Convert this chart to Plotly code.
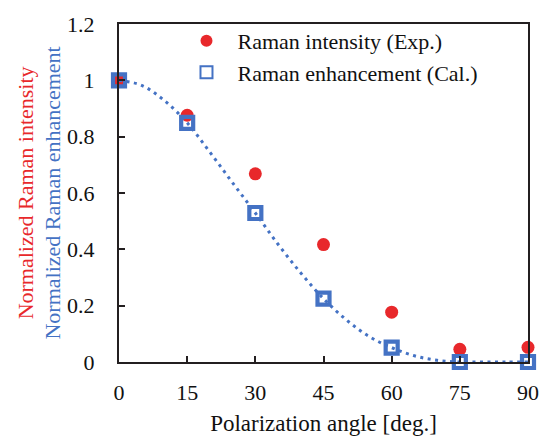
import plotly.graph_objects as go

# Polarization angle (degrees)
angles = [0, 15, 30, 45, 60, 75, 90]
# Measured normalized Raman intensity
raman_exp = [1.0, 0.876, 0.668, 0.417, 0.177, 0.045, 0.052]
# Calculated normalized Raman enhancement
raman_cal = [1.0, 0.849, 0.529, 0.225, 0.051, 0.0, 0.0]

# Dense calculated curve (dotted)
curve_angles = [0, 5, 10, 15, 20, 25, 30, 35, 40, 45, 50, 55, 60, 65, 70, 75, 80, 85, 90]
curve_values = [1.0, 0.982, 0.928, 0.849, 0.745, 0.636, 0.529, 0.418, 0.316, 0.225,
                0.150, 0.091, 0.051, 0.022, 0.006, 0.0, 0.0, 0.0, 0.0]

x_ticks = [0, 15, 30, 45, 60, 75, 90]
y_ticks = [0, 0.2, 0.4, 0.6, 0.8, 1, 1.2]
y_tick_text = ["0", "0.2", "0.4", "0.6", "0.8", "1", "1.2"]

RED = "#E8282B"
BLUE = "#4472C4"
AXIS = "#231F20"
TEXT = "#111111"
FONT = "Liberation Serif"

fig = go.Figure()

fig.add_trace(go.Scatter(
    x=angles, y=raman_exp, mode="markers", name="\u00a0\u00a0Raman intensity (Exp.)",
    marker=dict(symbol="circle", size=13, color=RED, line=dict(width=0)),
    cliponaxis=False,
))
fig.add_trace(go.Scatter(
    x=curve_angles, y=curve_values, mode="lines", showlegend=False,
    line=dict(color=BLUE, width=3, dash="3px,4.5px", shape="spline"),
    hoverinfo="skip", cliponaxis=False,
))
fig.add_trace(go.Scatter(
    x=angles, y=raman_cal, mode="markers", name="\u00a0\u00a0Raman enhancement (Cal.)",
    marker=dict(symbol="square-open", size=12, color=BLUE, line=dict(width=4.2, color=BLUE)),
    cliponaxis=False,
))

axis_common = dict(
    showgrid=False, zeroline=False, showline=True, linecolor=AXIS, linewidth=2,
    mirror=True, ticks="inside", ticklen=6, tickwidth=1.5, tickcolor=AXIS,
    tickfont=dict(family=FONT, size=22, color=TEXT),
)

fig.update_xaxes(
    range=[0, 90], tickvals=x_ticks, ticktext=[str(v) for v in x_ticks],
    title=dict(text="Polarization angle [deg.]", font=dict(family=FONT, size=23, color=TEXT), standoff=10),
    ticklabelstandoff=10,
    **axis_common,
)
fig.update_yaxes(
    range=[0, 1.2], tickvals=y_ticks, ticktext=y_tick_text,
    ticklabelstandoff=18,
    **axis_common,
)

fig.add_annotation(
    text="Normalized Raman intensity", textangle=-90, showarrow=False,
    xref="paper", yref="paper", x=-0.229, y=0.5, xanchor="center", yanchor="middle",
    font=dict(family=FONT, size=22, color=RED),
)
fig.add_annotation(
    text="Normalized Raman enhancement", textangle=-90, showarrow=False,
    xref="paper", yref="paper", x=-0.165, y=0.5, xanchor="center", yanchor="middle",
    font=dict(family=FONT, size=22, color=BLUE),
)

fig.update_layout(
    width=551, height=446,
    margin=dict(l=119, r=16, t=17, b=84),
    paper_bgcolor="white", plot_bgcolor="white",
    showlegend=True,
    legend=dict(
        x=0.165, y=1.012, xanchor="left", yanchor="top",
        bgcolor="rgba(0,0,0,0)", font=dict(family=FONT, size=22, color=TEXT),
        itemsizing="constant",
    ),
)

fig.write_html("out.html")
